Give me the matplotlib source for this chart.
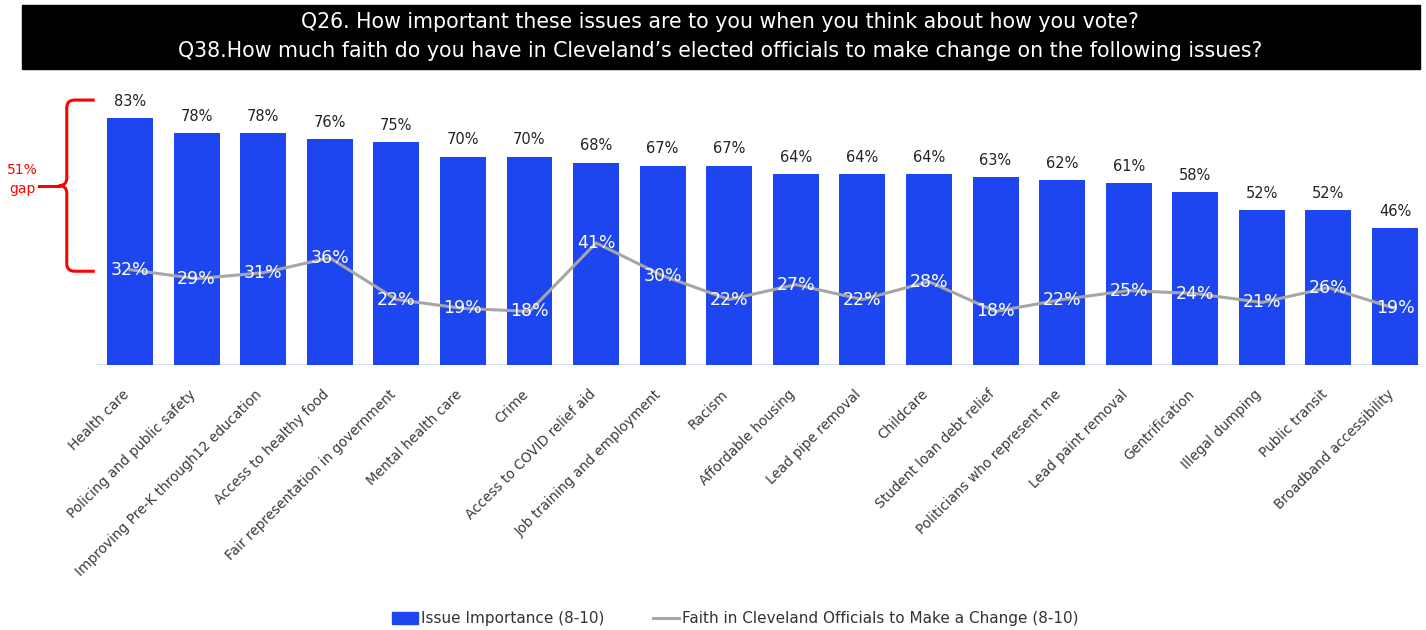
import matplotlib
matplotlib.use("Agg")
import matplotlib.pyplot as plt
from matplotlib.path import Path
from matplotlib.patches import PathPatch, Rectangle
from matplotlib.lines import Line2D
from matplotlib.transforms import ScaledTranslation

issues = [
    "Health care", "Policing and public safety", "Improving Pre-K through12 education",
    "Access to healthy food", "Fair representation in government", "Mental health care",
    "Crime", "Access to COVID relief aid", "Job training and employment", "Racism",
    "Affordable housing", "Lead pipe removal", "Childcare", "Student loan debt relief",
    "Politicians who represent me", "Lead paint removal", "Gentrification",
    "Illegal dumping", "Public transit", "Broadband accessibility",
]
importance = [83, 78, 78, 76, 75, 70, 70, 68, 67, 67, 64, 64, 64, 63, 62, 61, 58, 52, 52, 46]
faith = [32, 29, 31, 36, 22, 19, 18, 41, 30, 22, 27, 22, 28, 18, 22, 25, 24, 21, 26, 19]

title_lines = [
    "Q26. How important these issues are to you when you think about how you vote?",
    "Q38.How much faith do you have in Cleveland\u2019s elected officials to make change on the following issues?",
]

BLUE = "#1E46F0"
GRAY = "#A6A6A6"
RED = "#FF0000"
W, H = 1426, 630

plt.rcParams["font.family"] = ["DejaVu Sans"]

fig = plt.figure(figsize=(W / 100, H / 100), dpi=100)
fig.patch.set_facecolor("white")

# title band
fig.patches.append(Rectangle((22 / W, 1 - 69 / H), 1398 / W, 64 / H,
                             transform=fig.transFigure, color="black", zorder=0))
fig.text(720 / W, 1 - 22 / H, title_lines[0], color="white", fontsize=14.8,
         ha="center", va="center")
fig.text(720 / W, 1 - 51 / H, title_lines[1], color="white", fontsize=14.8,
         ha="center", va="center")

ax = fig.add_axes([95 / W, (H - 365) / H, 1325 / W, 270 / H])
x = list(range(len(issues)))
ax.bar(x, importance, width=0.69, color=BLUE, zorder=2)
ax.plot(x, faith, color=GRAY, lw=2.2, zorder=3)

for xi, v in zip(x, importance):
    ax.annotate(f"{v}%", (xi, v), xytext=(0, 12), textcoords="offset points",
                ha="center", va="center", fontsize=10.5, color="#222222")
for xi, v in zip(x, faith):
    ax.text(xi, v, f"{v}%", ha="center", va="center", fontsize=12.5,
            color="white", zorder=4)

ax.set_xlim(-0.526, 19.375)
ax.set_ylim(0, 90.7)
ax.axhline(0, color="#D5DDF5", lw=1.2, zorder=1)
for s in ax.spines.values():
    s.set_visible(False)
ax.set_yticks([])
ax.set_xticks(x)
ax.set_xticklabels(issues, rotation=45, ha="right", rotation_mode="anchor",
                   fontsize=9.8, color="#3a3a3a")
ax.tick_params(axis="x", length=0, pad=16)
shift = ScaledTranslation(-8 / 100, 0, fig.dpi_scale_trans)
for lab in ax.get_xticklabels():
    lab.set_transform(lab.get_transform() + shift)

# red brace showing the gap on the first issue
ytop = importance[0] + 6
ybot = faith[0] - 0.5
ymid = (ytop + ybot) / 2
xr, xv, xm = -0.53, -0.95, -1.36
dx, dy = 0.12, 2.5
verts = [
    (xr, ytop), (xv + dx, ytop), (xv, ytop), (xv, ytop - dy),
    (xv, ymid + dy), (xv, ymid), (xv - dx, ymid),
    (xv, ymid), (xv, ymid - dy),
    (xv, ybot + dy), (xv, ybot), (xv + dx, ybot), (xr, ybot),
]
codes = [
    Path.MOVETO, Path.LINETO, Path.CURVE3, Path.CURVE3,
    Path.LINETO, Path.CURVE3, Path.CURVE3,
    Path.CURVE3, Path.CURVE3,
    Path.LINETO, Path.CURVE3, Path.CURVE3, Path.LINETO,
]
ax.add_patch(PathPatch(Path(verts, codes), fill=False, edgecolor=RED, lw=2.2,
                       clip_on=False, zorder=5))
ax.add_line(Line2D([xv - dx, xm], [ymid, ymid], color=RED, lw=2.2, clip_on=False))
ax.text(-1.62, ymid + 2, f"{importance[0] - faith[0]}%\ngap", color=RED,
        fontsize=10, ha="center", va="center", linespacing=1.5, clip_on=False)

handles = [
    Rectangle((0, 0), 1, 1, color=BLUE),
    Line2D([0], [0], color=GRAY, lw=2.2),
]
fig.legend(handles, ["Issue Importance (8-10)", "Faith in Cleveland Officials to Make a Change (8-10)"],
           loc="center", bbox_to_anchor=(735 / W, 1 - 619 / H), ncol=2, frameon=False,
           fontsize=11, handlelength=1.7, handleheight=0.8, handletextpad=0.2,
           columnspacing=3.2, labelcolor="#333333")

fig.savefig("out.png", dpi=100)
